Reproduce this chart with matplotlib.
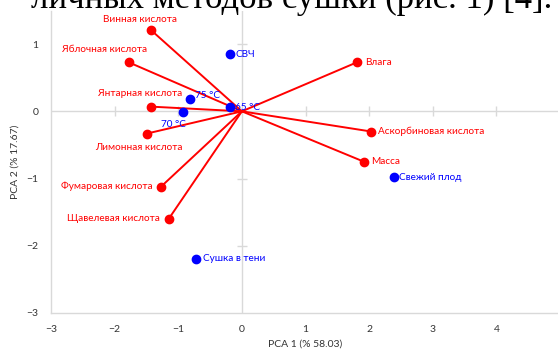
import matplotlib
matplotlib.use("Agg")
import matplotlib.pyplot as plt
import numpy as np

# Loadings (variables) - red vectors
var_names = ["Винная кислота", "Яблочная кислота", "Янтарная кислота", "Лимонная кислота",
             "Фумаровая кислота", "Щавелевая кислота", "Влага", "Аскорбиновая кислота", "Масса"]
var_pc1 = [-1.43, -1.78, -1.43, -1.49, -1.27, -1.15, 1.81, 2.03, 1.92]
var_pc2 = [1.21, 0.73, 0.07, -0.33, -1.12, -1.60, 0.73, -0.30, -0.75]

# Scores (samples) - blue points
obs_names = ["СВЧ", "75 °C", "65 °C", "70 °C", "Свежий плод", "Сушка в тени"]
obs_pc1 = [-0.19, -0.82, -0.19, -0.93, 2.39, -0.72]
obs_pc2 = [0.85, 0.18, 0.06, -0.01, -0.98, -2.19]

xticks = [-3, -2, -1, 0, 1, 2, 3, 4, 5]
yticks = [-3, -2, -1, 0, 1]

# label placement (offset in points, ha, va)
var_lab = [(-8, 4.5, "center", "bottom"), (-17, 6, "center", "bottom"), (-8, 6, "center", "bottom"),
           (-6, -7, "center", "top"), (-6, 0, "right", "center"), (-6, 0, "right", "center"),
           (6, 0, "left", "center"), (5, 0, "left", "center"), (5, 0, "left", "center")]
obs_lab = [(4, 0, "left", "center"), (4, 3, "left", "center"), (4, 0, "left", "center"),
           (-7, -6, "center", "top"), (4, 0, "left", "center"), (5, 0, "left", "center")]

FONT = "Lato"
RED = "#FF0000"
BLUE = "#0000FF"
GRID = "#D9D9D9"

fig = plt.figure(figsize=(5.58, 3.52), dpi=100)
ax = fig.add_axes([51/558, 39/352, 509/558, (313-10.5)/352])
ax.set_xlim(-3, 5)
ax.set_ylim(-3, 1.5)

# zero lines with small tick crosses
ax.axhline(0, color=GRID, lw=1, zorder=1)
ax.axvline(0, color=GRID, lw=1, zorder=1)
ax.plot([t for t in xticks if t not in (-3, 0, 5)], [0]*6, ls="none", marker="|", ms=7,
        mec=GRID, mew=1, zorder=1)
ax.plot([0]*3, [t for t in yticks if t not in (-3, 0)], ls="none", marker="_", ms=7,
        mec=GRID, mew=1, zorder=1)

for s in ["top", "right"]:
    ax.spines[s].set_visible(False)
for s in ["left", "bottom"]:
    ax.spines[s].set_color(GRID)
    ax.spines[s].set_linewidth(1)

ax.set_xticks(xticks)
ax.set_yticks(yticks)
ax.tick_params(length=0, labelsize=7.5, colors="#333333", pad=9)
for lab in ax.get_xticklabels() + ax.get_yticklabels():
    lab.set_fontfamily(FONT)

# vectors
for x, y in zip(var_pc1, var_pc2):
    ax.plot([0, x], [0, y], color=RED, lw=1.4, zorder=2)
ax.plot(var_pc1, var_pc2, ls="none", marker="o", ms=6, color=RED, zorder=3)
for name, x, y, (dx, dy, ha, va) in zip(var_names, var_pc1, var_pc2, var_lab):
    ax.annotate(name, (x, y), xytext=(dx, dy), textcoords="offset points", ha=ha, va=va,
                color=RED, fontsize=7.2, fontfamily=FONT)

ax.plot(obs_pc1, obs_pc2, ls="none", marker="o", ms=6, color=BLUE, zorder=4)
for name, x, y, (dx, dy, ha, va) in zip(obs_names, obs_pc1, obs_pc2, obs_lab):
    ax.annotate(name, (x, y), xytext=(dx, dy), textcoords="offset points", ha=ha, va=va,
                color=BLUE, fontsize=7.2, fontfamily=FONT)

ax.set_xlabel("PCA 1 (% 58.03)", fontsize=7.5, fontfamily=FONT, color="#333333", labelpad=4)
ax.set_ylabel("PCA 2 (% 17.67)", fontsize=7.5, fontfamily=FONT, color="#333333", labelpad=5)

# clipped line of document text above the chart
fig.text(552/558, 1 - 8/352, "личных методов сушки (рис. 1) [4].", ha="right", va="baseline",
         fontsize=25, fontfamily="Liberation Serif", color="black")

fig.savefig("out.png", dpi=100)
